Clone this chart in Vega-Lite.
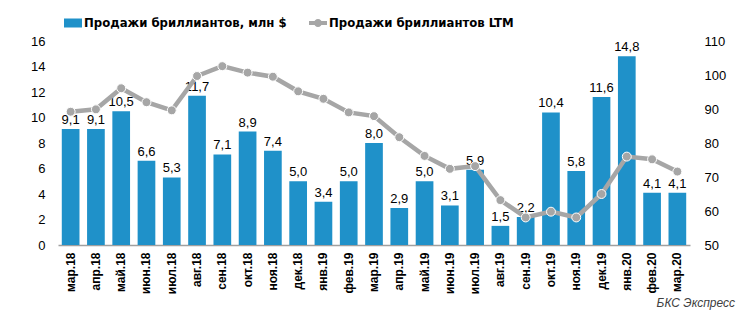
{
  "$schema": "https://vega.github.io/schema/vega-lite/v6.json",
  "autosize": "none",
  "width": 632,
  "height": 204,
  "padding": {"left": 58, "top": 41, "right": 56, "bottom": 76},
  "background": "white",
  "data": {"values": [
    {"m": "мар.18", "sales": 9.1, "ltm": 89.2},
    {"m": "апр.18", "sales": 9.1, "ltm": 89.9},
    {"m": "май.18", "sales": 10.5, "ltm": 96.1},
    {"m": "июн.18", "sales": 6.6, "ltm": 92.0},
    {"m": "июл.18", "sales": 5.3, "ltm": 89.6},
    {"m": "авг.18", "sales": 11.7, "ltm": 99.7},
    {"m": "сен.18", "sales": 7.1, "ltm": 102.6},
    {"m": "окт.18", "sales": 8.9, "ltm": 100.7},
    {"m": "ноя.18", "sales": 7.4, "ltm": 99.5},
    {"m": "дек.18", "sales": 5.0, "ltm": 95.2},
    {"m": "янв.19", "sales": 3.4, "ltm": 93.0},
    {"m": "фев.19", "sales": 5.0, "ltm": 89.0},
    {"m": "мар.19", "sales": 8.0, "ltm": 87.9},
    {"m": "апр.19", "sales": 2.9, "ltm": 81.7},
    {"m": "май.19", "sales": 5.0, "ltm": 76.2},
    {"m": "июн.19", "sales": 3.1, "ltm": 72.4},
    {"m": "июл.19", "sales": 5.9, "ltm": 73.2},
    {"m": "авг.19", "sales": 1.5, "ltm": 63.2},
    {"m": "сен.19", "sales": 2.2, "ltm": 58.1},
    {"m": "окт.19", "sales": 10.4, "ltm": 59.8},
    {"m": "ноя.19", "sales": 5.8, "ltm": 58.1},
    {"m": "дек.19", "sales": 11.6, "ltm": 65.0},
    {"m": "янв.20", "sales": 14.8, "ltm": 76.0},
    {"m": "фев.20", "sales": 4.1, "ltm": 75.2},
    {"m": "мар.20", "sales": 4.1, "ltm": 71.6}
  ]},
  "title": {
    "text": "БКС Экспресс",
    "orient": "bottom",
    "anchor": "end",
    "frame": "group",
    "fontStyle": "italic",
    "fontWeight": "normal",
    "fontSize": 12,
    "font": "Liberation Sans",
    "color": "#404040",
    "dx": 45,
    "offset": 4
  },
  "encoding": {
    "x": {
      "field": "m", "type": "nominal", "sort": null,
      "scale": {"paddingInner": 0.3, "paddingOuter": 0.15},
      "axis": {
        "title": null, "labelAngle": -90, "labelFontWeight": "bold", "labelFontSize": 12,
        "labelFont": "Liberation Sans", "labelColor": "black", "ticks": false,
        "labelPadding": 7, "domainColor": "#a0a0a0", "domainWidth": 1.3
      }
    }
  },
  "layer": [
    {
      "encoding": {
        "y": {
          "field": "sales", "type": "quantitative",
          "scale": {"domain": [0, 16], "nice": false},
          "axis": {"title": null, "values": [0,2,4,6,8,10,12,14,16], "grid": false, "domain": false, "labelOverlap": false,
                   "ticks": false, "labelPadding": 13, "labelFontSize": 13, "labelFont": "Liberation Sans", "labelColor": "black"}
        }
      },
      "layer": [
        {
          "mark": {"type": "bar"},
          "encoding": {
            "color": {
              "datum": "Продажи бриллиантов, млн $",
              "type": "nominal",
              "scale": {"domain": ["Продажи бриллиантов, млн $", "Продажи бриллиантов LTM"], "range": ["#1f91c9", "#a6a6a6"]},
              "legend": {
                "title": null, "orient": "none", "direction": "horizontal",
                "legendX": 6, "legendY": -27,
                "labelFont": "DejaVu Sans Condensed, Liberation Sans", "labelFontWeight": "bold", "labelFontSize": 13,
                "labelLimit": 400,
                "labelColor": "black", "columnPadding": 22, "symbolSize": 324, "symbolOffset": 0, "labelOffset": 2,
                "symbolStrokeWidth": 0, "symbolOpacity": 1,
                "encode": {
                  "symbols": {
                    "update": {
                      "shape": {"signal": "datum.value === 'Продажи бриллиантов, млн $' ? 'M-1,-0.5H1V0.5H-1Z' : 'M-1,-0.22H1V0.22H-1Z M0.45,0 A0.45,0.45 0 1,1 -0.45,0 A0.45,0.45 0 1,1 0.45,0Z'"},
                      "fill": {"signal": "datum.value === 'Продажи бриллиантов, млн $' ? '#1f91c9' : '#a6a6a6'"},
                      "strokeWidth": {"value": 0},
                      "opacity": {"value": 1}
                    }
                  }
                }
              }
            }
          }
        },
        {
          "mark": {"type": "text", "dy": -9, "fontSize": 13, "font": "Liberation Sans", "color": "black"},
          "encoding": {
            "text": {"field": "sales", "type": "quantitative", "format": ".1f"}
          }
        }
      ]
    },
    {
      "mark": {"type": "line", "strokeWidth": 4.5,
               "point": {"filled": true, "size": 80, "stroke": "white", "strokeWidth": 1, "fill": "#a6a6a6", "opacity": 1}},
      "encoding": {
        "y": {
          "field": "ltm", "type": "quantitative",
          "scale": {"domain": [50, 110], "nice": false},
          "axis": {"title": null, "orient": "right", "values": [50,60,70,80,90,100,110], "grid": false, "domain": false, "labelOverlap": false,
                   "ticks": false, "labelPadding": 14, "labelFontSize": 13, "labelFont": "Liberation Sans", "labelColor": "black"}
        },
        "color": {"datum": "Продажи бриллиантов LTM", "type": "nominal"}
      }
    }
  ],
  "resolve": {"scale": {"y": "independent"}},
  "config": {
    "view": {"stroke": null},
    "locale": {"number": {"decimal": ",", "thousands": "\u00a0", "grouping": [3], "currency": ["", ""]}}
  }
}
